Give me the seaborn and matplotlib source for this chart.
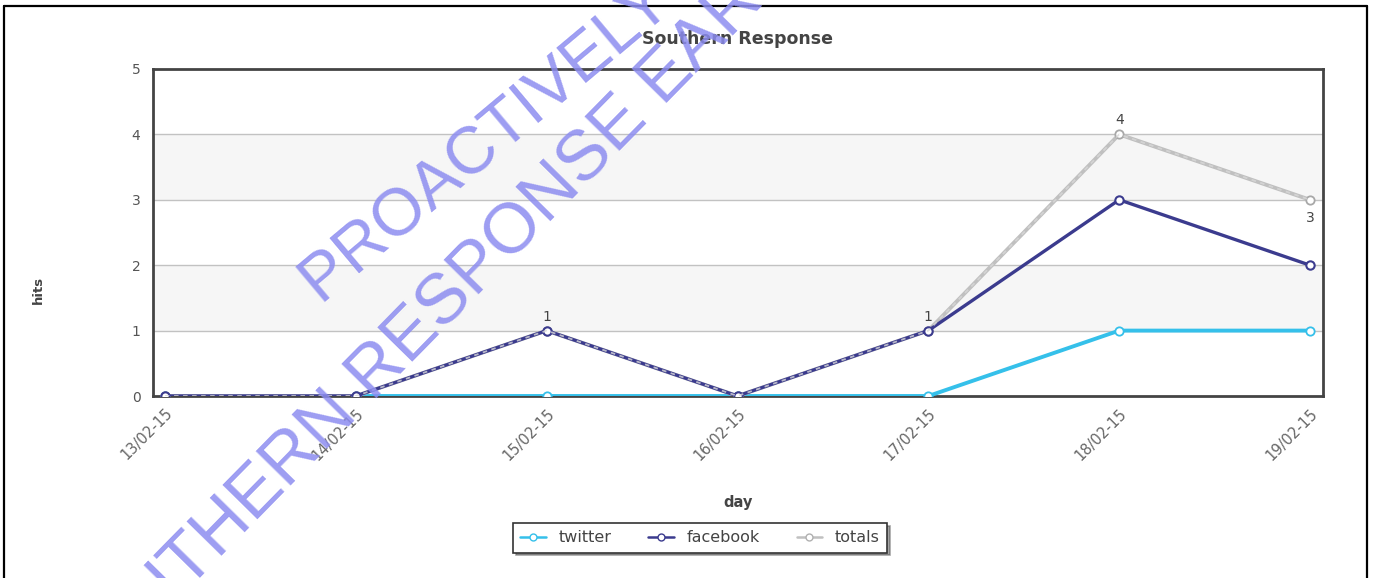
import matplotlib
matplotlib.use("Agg")
import matplotlib.pyplot as plt
import seaborn as sns
import pandas as pd
from matplotlib.lines import Line2D

# ---- data ----
days = ["13/02-15", "14/02-15", "15/02-15", "16/02-15", "17/02-15", "18/02-15", "19/02-15"]
twitter = [0, 0, 0, 0, 0, 1, 1]
facebook = [0, 0, 1, 0, 1, 3, 2]
totals = [0, 0, 1, 0, 1, 4, 3]
yticks = [0, 1, 2, 3, 4, 5]
title = "Southern Response"
xlabel = "day"
ylabel = "hits"
watermark1 = "PROACTIVELY RELEASED"
watermark2 = "SOUTHERN RESPONSE EARTHQUAKE"

sns.set_style("white")
plt.rcParams["font.family"] = ["DejaVu Sans"]

df = pd.DataFrame({"day": days, "twitter": twitter, "facebook": facebook, "totals": totals})
df["pos"] = range(len(days))

fig = plt.figure(figsize=(13.74, 5.78), dpi=100)
ax = fig.add_axes([153 / 1374, 1 - 396 / 578, (1323 - 153) / 1374, (396 - 69) / 578])

colors = {"twitter": "#35c0ea", "facebook": "#3b3b8e", "totals": "#c0c0c0"}

# background bands and grid
for lo in (1, 3):
    ax.axhspan(lo, lo + 1, color="#f6f6f6", zorder=0, lw=0)
for y in yticks[1:-1]:
    ax.axhline(y, color="#c2c2c2", lw=1, zorder=0.5)

sns.lineplot(data=df, x="pos", y="twitter", ax=ax, color=colors["twitter"], lw=2.8,
             marker="o", markersize=6, markerfacecolor="white", markeredgecolor=colors["twitter"],
             markeredgewidth=1.3, zorder=3)
sns.lineplot(data=df, x="pos", y="totals", ax=ax, color=colors["totals"], lw=2.8,
             marker="o", markersize=6, markerfacecolor="white", markeredgecolor="#a8a8a8",
             markeredgewidth=1.3, zorder=4)
sns.lineplot(data=df, x="pos", y="facebook", ax=ax, color=colors["facebook"], lw=2.4,
             marker="o", markersize=6, markerfacecolor="white", markeredgecolor=colors["facebook"],
             markeredgewidth=1.5, zorder=5)
# light dashed overlay of totals (visible where it overlaps facebook)
ax.plot(df["pos"], df["totals"], color="#d8d8d8", lw=1.3, ls=(0, (2.5, 2.5)), zorder=6, alpha=0.8)

# data labels on totals
for i, v in enumerate(totals):
    if v > 0:
        if i == len(totals) - 1:
            ax.annotate(str(v), (i, v), xytext=(0, -8), textcoords="offset points",
                        ha="center", va="top", fontsize=10, color="#444444")
        else:
            ax.annotate(str(v), (i, v), xytext=(0, 5), textcoords="offset points",
                        ha="center", va="bottom", fontsize=10, color="#444444")

ax.set_xlim(-0.063, 6.068)
ax.set_ylim(0, 5)
ax.set_yticks(yticks)
ax.set_yticklabels([str(t) for t in yticks], fontsize=10, color="#555555")
ax.set_xticks(df["pos"])
ax.set_xticklabels(days, rotation=45, ha="right", va="top", rotation_mode="anchor",
                   fontsize=10.5, color="#666666")
ax.tick_params(axis="both", length=0)
ax.tick_params(axis="x", pad=7)
ax.tick_params(axis="y", pad=9)
ax.set_xlabel("")
ax.set_ylabel("")
for s in ax.spines.values():
    s.set_color("#444444")
    s.set_linewidth(2)
    s.set_visible(True)

ax.set_title(title, fontsize=12.5, fontweight="bold", color="#444444", pad=18)
fig.text(738 / 1374, 1 - 503 / 578, xlabel, ha="center", va="center",
         fontsize=10.5, fontweight="bold", color="#444444")
fig.text(38 / 1374, 1 - 290 / 578, ylabel, ha="center", va="center", rotation=90,
         fontsize=9.5, fontweight="bold", color="#444444")

# legend
handles = [
    Line2D([], [], color=colors["twitter"], lw=1.8, marker="o", ms=5, mfc="white", mec=colors["twitter"]),
    Line2D([], [], color=colors["facebook"], lw=1.8, marker="o", ms=5, mfc="white", mec=colors["facebook"]),
    Line2D([], [], color=colors["totals"], lw=1.8, marker="o", ms=5, mfc="white", mec="#b0b0b0"),
]
leg = fig.legend(handles, ["twitter", "facebook", "totals"], loc="center",
                 bbox_to_anchor=(700 / 1374, 1 - 538 / 578), ncol=3, frameon=True,
                 fancybox=False, shadow=True, edgecolor="#333333", fontsize=11.5,
                 handlelength=1.6, columnspacing=2.3, handletextpad=0.8, borderpad=0.45,
                 borderaxespad=0)
leg.get_frame().set_linewidth(1.2)
for t in leg.get_texts():
    t.set_color("#444444")

# outer border
bx0, bx1, by1 = 4 / 1374, 1367 / 1374, 1 - 6 / 578
for xs, ys in (([bx0, bx0], [0, by1]), ([bx0, bx1], [by1, by1]), ([bx1, bx1], [0, by1])):
    fig.add_artist(Line2D(xs, ys, color="black", lw=1.6, transform=fig.transFigure))

# watermark
wm = dict(color="#8c8cf0", alpha=0.85, rotation_mode="anchor",
          ha="left", va="baseline", family=["Liberation Sans", "DejaVu Sans"], zorder=10)
fig.text(322 / 1374, 1 - 306 / 578, watermark1, fontsize=48, rotation=40, **wm)
fig.text(80 / 1374, 1 - 700 / 578, watermark2, fontsize=51, rotation=45.5, **wm)

fig.savefig("out.png", dpi=100)
